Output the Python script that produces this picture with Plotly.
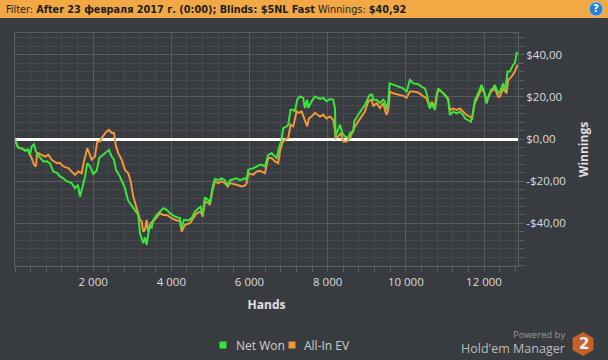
import plotly.graph_objects as go

# ---------------- data ----------------
net_won_hands = [0, 51, 102, 179, 256, 333, 384, 427, 486, 537, 588, 665, 724, 819, 895, 980, 1074, 1151,
                 1228, 1322, 1381, 1450, 1535, 1612, 1663, 1732, 1791, 1849, 1919, 2003, 2090, 2156, 2259,
                 2346, 2405, 2474, 2532, 2584, 2686, 2814, 2891, 2942, 3070, 3154, 3198, 3282, 3325, 3369,
                 3410, 3453, 3497, 3538, 3625, 3709, 3794, 3880, 3965, 4093, 4221, 4264, 4323, 4433, 4520,
                 4604, 4689, 4750, 4801, 4860, 4945, 4988, 5057, 5116, 5200, 5287, 5372, 5441, 5500, 5584,
                 5671, 5756, 5883, 5927, 5968, 6096, 6183, 6267, 6311, 6395, 6479, 6566, 6651, 6694, 6753,
                 6822, 6863, 6950, 6991, 7052, 7119, 7162, 7221, 7290, 7375, 7418, 7477, 7503, 7590, 7674,
                 7802, 7886, 7973, 8058, 8142, 8186, 8204, 8270, 8314, 8373, 8441, 8526, 8569, 8654, 8679,
                 8782, 8869, 8953, 9037, 9081, 9140, 9165, 9252, 9337, 9421, 9465, 9508, 9549, 9585, 9677,
                 9797, 9933, 10020, 10104, 10189, 10316, 10403, 10488, 10531, 10616, 10659, 10700, 10744,
                 10787, 10828, 10915, 10999, 11084, 11127, 11212, 11299, 11383, 11467, 11511, 11597, 11665,
                 11724, 11767, 11852, 11939, 12005, 12067, 12107, 12176, 12235, 12278, 12363, 12406, 12491,
                 12534, 12603, 12662, 12705, 12746, 12790, 12834, 12867]
net_won = [0, -3.0, -4.3, -4.5, -5.5, -5.0, -7.5, -3.5, -2.5, -6.0, -7.5, -9.0, -10.6, -10.5, -11.5, -15.4,
           -16.0, -17.7, -18.5, -20.0, -20.5, -20.9, -23.3, -21.7, -27.3, -21.7, -18.0, -11.4, -13.0, -16.6,
           -15.0, -9.0, -7.5, -6.0, -5.1, -8.3, -9.8, -14.6, -17.8, -23.3, -29.0, -30.4, -33.6, -36.0, -44.7,
           -49.4, -46.6, -50.2, -45.0, -40.7, -42.3, -38.3, -36.0, -34.4, -32.8, -33.6, -35.2, -36.8, -37.5,
           -42.3, -38.3, -38.6, -37.5, -34.4, -32.8, -32.0, -36.0, -27.6, -29.0, -30.4, -22.5, -19.0, -19.5,
           -18.6, -19.5, -22.2, -19.5, -19.0, -18.6, -19.5, -18.6, -19.5, -14.6, -13.8, -13.0, -12.2, -12.2,
           -13.0, -7.5, -6.7, -8.3, -9.0, -4.3, -0.3, 5.2, 6.0, 6.8, 13.9, 13.9, 13.1, 18.7, 20.2, 19.5, 14.7,
           18.7, 14.7, 17.9, 20.2, 19.0, 19.5, 17.9, 19.0, 18.7, 14.7, 1.2, 4.4, 6.8, 2.9, 1.2, 0.5, 2.9, 3.6,
           8.4, 11.5, 13.9, 16.3, 19.5, 21.0, 21.0, 18.7, 18.7, 17.1, 18.7, 17.7, 13.8, 17.7, 26.4, 25.7,
           24.8, 24.1, 22.5, 28.0, 26.4, 26.0, 24.8, 24.0, 21.7, 14.5, 16.9, 15.3, 13.8, 19.3, 24.0, 22.5,
           20.9, 18.5, 11.4, 13.0, 12.2, 13.0, 11.4, 9.8, 9.0, 8.2, 12.9, 18.5, 21.7, 25.7, 22.5, 16.9, 20.1,
           23.3, 24.1, 25.7, 21.7, 22.5, 26.4, 22.5, 32.0, 32.0, 33.6, 35.2, 36.0, 40.7, 40.92]

ev_hands = [0, 51, 102, 179, 256, 333, 384, 427, 486, 537, 563, 596, 683, 767, 852, 939, 1067, 1151, 1236,
            1363, 1450, 1535, 1619, 1706, 1765, 1849, 1919, 1962, 2046, 2105, 2174, 2243, 2346, 2405, 2474,
            2532, 2584, 2642, 2729, 2814, 2898, 2960, 3026, 3113, 3198, 3241, 3282, 3325, 3369, 3410, 3471,
            3538, 3625, 3709, 3794, 3880, 3965, 4093, 4221, 4264, 4349, 4477, 4561, 4648, 4750, 4801, 4860,
            4945, 4988, 5057, 5116, 5200, 5287, 5372, 5441, 5500, 5671, 5799, 5883, 5927, 5968, 6096, 6183,
            6267, 6311, 6395, 6479, 6566, 6651, 6735, 6779, 6838, 6907, 6991, 7052, 7119, 7206, 7265, 7334,
            7418, 7477, 7521, 7590, 7674, 7802, 7886, 7973, 8058, 8142, 8186, 8204, 8270, 8339, 8398, 8485,
            8569, 8679, 8782, 8869, 8953, 9037, 9124, 9165, 9252, 9337, 9421, 9465, 9508, 9549, 9593, 9677,
            9797, 9933, 10020, 10104, 10189, 10316, 10403, 10488, 10531, 10616, 10659, 10744, 10787, 10828,
            10915, 10999, 11084, 11127, 11212, 11299, 11383, 11467, 11554, 11640, 11698, 11749, 11852, 11939,
            12005, 12067, 12107, 12176, 12278, 12363, 12406, 12491, 12577, 12618, 12705, 12790, 12859, 12867]
all_in_ev = [0, -3.0, -4.3, -4.5, -5.5, -5.0, -7.5, -9.0, -12.0, -13.0, -7.0, -6.7, -7.5, -8.3, -7.5, -9.8,
             -11.4, -11.4, -13.0, -13.8, -15.4, -17.0, -15.4, -16.2, -10.6, -4.3, -7.5, -9.8, -8.3, -1.1,
             -1.1, 1.2, 3.6, 4.4, 2.9, 2.9, -3.5, -6.7, -9.8, -14.6, -16.2, -20.1, -27.3, -32.8, -38.3, -39.0,
             -43.9, -43.0, -38.3, -43.9, -39.9, -39.0, -36.8, -35.2, -36.0, -36.0, -37.0, -38.3, -39.0, -43.9,
             -40.7, -39.9, -37.5, -35.2, -34.4, -36.8, -29.6, -30.4, -31.2, -24.1, -20.1, -20.9, -20.1, -20.9,
             -22.5, -20.9, -21.7, -22.5, -22.1, -20.9, -16.2, -16.9, -15.4, -15.0, -15.4, -16.2, -9.0, -9.0,
             -10.6, -11.4, -5.9, -1.9, -0.3, 0.5, 6.8, 6.0, 13.1, 12.4, 13.1, 8.4, 6.0, 9.8, 10.7, 12.4, 10.7,
             11.5, 9.8, 10.7, 9.2, 4.4, 0.5, 1.2, 2.9, -1.1, -1.1, 0.5, 5.2, 8.4, 10.7, 13.1, 17.9, 18.7, 15.5,
             17.1, 14.7, 17.1, 13.8, 11.4, 13.8, 22.5, 21.7, 21.2, 20.5, 19.6, 22.5, 22.5, 22.1, 20.9, 20.1,
             19.3, 14.5, 17.7, 15.3, 20.9, 23.3, 22.5, 20.9, 19.3, 13.8, 14.5, 13.8, 14.5, 13.0, 11.4, 10.6,
             9.8, 16.2, 20.1, 24.0, 22.1, 17.7, 19.3, 22.5, 24.0, 20.1, 20.1, 24.0, 21.7, 28.0, 29.6, 32.0,
             35.2, 34.0]

x_tick_vals = [2000, 4000, 6000, 8000, 10000, 12000]
x_tick_text = ["2 000", "4 000", "6 000", "8 000", "10 000", "12 000"]
y_tick_vals = [-40, -20, 0, 20, 40]
y_tick_text = ["-$40,00", "-$20,00", "$0,00", "$20,00", "$40,00"]
series_names = ["Net Won", "All-In EV"]

# ---------------- styling ----------------
W, H = 608, 360
L, R, T, B = 15, 518, 33, 266
BG = "#383b3f"
GREEN = "#3ae63a"
ORANGE = "#f2963a"


def px(x):
    return (x - L) / (R - L)


def py(y):
    return (B - y) / (B - T)


fig = go.Figure()
fig.add_trace(go.Scatter(x=ev_hands, y=all_in_ev, mode="lines", name=series_names[1],
                         line=dict(color=ORANGE, width=2), showlegend=False))
fig.add_trace(go.Scatter(x=net_won_hands, y=net_won, mode="lines", name=series_names[0],
                         line=dict(color=GREEN, width=2), showlegend=False))

fig.update_layout(
    width=W, height=H,
    margin=dict(l=L, r=W - R, t=T, b=H - B, pad=0),
    paper_bgcolor=BG, plot_bgcolor=BG,
    font=dict(family="Open Sans, sans-serif", color="#d8d8d8", size=11),
    showlegend=False,
)

fig.update_xaxes(
    range=[0, 12870], tickvals=x_tick_vals, ticktext=x_tick_text,
    showgrid=True, gridcolor="#585b5f", gridwidth=1,
    ticks="outside", ticklen=5, tickcolor="#5c6064",
    minor=dict(dtick=400, tick0=0, showgrid=True, gridcolor="#46494d", ticks="outside", ticklen=5,
               tickcolor="#5c6064"),
    showline=True, linecolor="#5c6064", mirror=True, zeroline=False,
    tickfont=dict(size=11.5, color="#dcdcdc"),
    title=dict(text="<b>Hands</b>", font=dict(size=12, color="#e0e0e0"), standoff=12),
)
fig.update_yaxes(
    side="right", range=[-60.2, 50.3], tickvals=y_tick_vals, ticktext=y_tick_text,
    showgrid=True, gridcolor="#585b5f", gridwidth=1,
    ticks="outside", ticklen=5, tickcolor="#5c6064",
    minor=dict(dtick=4, tick0=0, showgrid=True, gridcolor="#46494d", ticks="outside", ticklen=5,
               tickcolor="#5c6064"),
    showline=True, linecolor="#5c6064", mirror=True,
    zeroline=True, zerolinecolor="#ffffff", zerolinewidth=2.5,
    tickfont=dict(size=11.5, color="#dcdcdc"),
    title=dict(text="<b>Winnings</b>", font=dict(size=12, color="#e0e0e0"), standoff=14),
)

shapes = []
annotations = []

# header bar
shapes.append(dict(type="rect", xref="paper", yref="paper", x0=px(0), x1=px(W), y0=py(18), y1=py(0),
                   fillcolor="#f2a844", line=dict(width=0), layer="above"))
annotations.append(dict(
    xref="paper", yref="paper", x=px(4), y=py(9.5), xanchor="left", yanchor="middle", showarrow=False,
    text="Filter: <b>After 23 февраля 2017 г. (0:00); Blinds: $5NL Fast</b> Winnings: <b>$40,92</b>",
    font=dict(family="DejaVu Sans Condensed, DejaVu Sans, sans-serif", size=10.8, color="#1e1e1e")))
# help icon
shapes.append(dict(type="circle", xref="paper", yref="paper", x0=px(589), x1=px(603), y0=py(16), y1=py(2),
                   fillcolor="#2d7fd4", line=dict(color="#9fc8f0", width=1), layer="above"))
annotations.append(dict(xref="paper", yref="paper", x=px(596), y=py(9), xanchor="center", yanchor="middle",
                        showarrow=False, text="<b>?</b>",
                        font=dict(family="DejaVu Sans", size=10, color="#ffffff")))

# legend (manual)
for sx, tx, col, name in [(223, 234, GREEN, series_names[0]), (292, 302, ORANGE, series_names[1])]:
    shapes.append(dict(type="rect", xref="paper", yref="paper", x0=px(sx - 3.5), x1=px(sx + 3.5),
                       y0=py(348.5), y1=py(341.5), fillcolor=col, line=dict(width=0)))
    annotations.append(dict(xref="paper", yref="paper", x=px(tx), y=py(345), xanchor="left",
                            yanchor="middle", showarrow=False, text=name,
                            font=dict(size=12, color="#d0d0d0")))

# Powered by logo
annotations.append(dict(xref="paper", yref="paper", x=px(567), y=py(334), xanchor="right", yanchor="middle",
                        showarrow=False, text="Powered by", font=dict(size=9.5, color="#9a9a9a")))
annotations.append(dict(xref="paper", yref="paper", x=px(567), y=py(348.5), xanchor="right",
                        yanchor="middle", showarrow=False, text="Hold'em Manager",
                        font=dict(size=12.5, color="#bdbdbd")))
cx, cy, r = 583, 344, 12
hexpts = [(cx, cy - r), (cx + 10.4, cy - 6), (cx + 10.4, cy + 6), (cx, cy + r), (cx - 10.4, cy + 6),
          (cx - 10.4, cy - 6)]
path = "M " + " L ".join(f"{px(a):.5f},{py(b):.5f}" for a, b in hexpts) + " Z"
shapes.append(dict(type="path", xref="paper", yref="paper", path=path, fillcolor="#c4622a",
                   line=dict(width=0)))
annotations.append(dict(xref="paper", yref="paper", x=px(583.5), y=py(344), xanchor="center",
                        yanchor="middle", showarrow=False, text="<b>2</b>",
                        font=dict(family="DejaVu Sans", size=15, color="#eeeeee")))

fig.update_layout(shapes=shapes, annotations=annotations)
fig.write_html("out.html")
